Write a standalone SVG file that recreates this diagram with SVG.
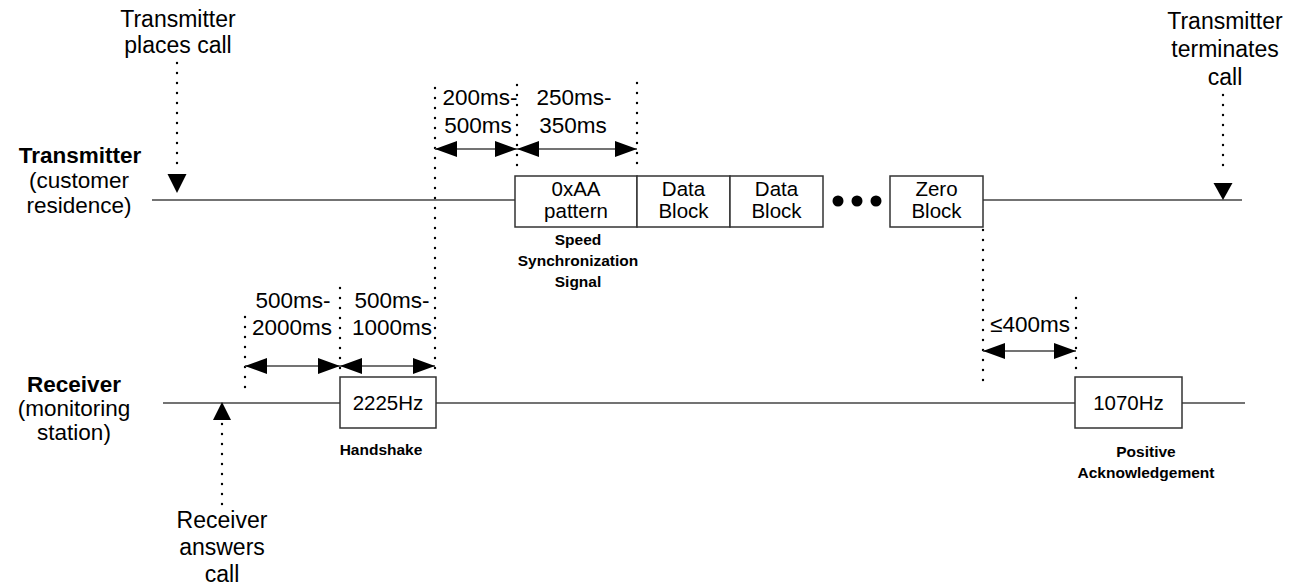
<svg xmlns="http://www.w3.org/2000/svg" width="1298" height="585" viewBox="0 0 1298 585">
<style>
text{font-family:"Liberation Sans",Arial,sans-serif;fill:#000}
.t{font-size:23px;text-anchor:middle}
.m{font-size:22.5px;text-anchor:middle}
.b{font-size:22.5px;font-weight:bold;text-anchor:middle}
.bx{font-size:20.5px;text-anchor:middle}
.s{font-size:15.5px;font-weight:bold;text-anchor:middle}
.ln{stroke:#444;stroke-width:1.5;fill:none}
.box{fill:#fff;stroke:#333;stroke-width:1.5}
.dot{stroke:#000;stroke-width:2.4;stroke-linecap:round;stroke-dasharray:0 10;fill:none}
.dim{stroke:#444;stroke-width:1.5;fill:none;marker-start:url(#ah);marker-end:url(#ah)}
</style>
<defs>
<marker id="ah" viewBox="0 0 22 16" refX="22" refY="8" markerWidth="22" markerHeight="16" markerUnits="userSpaceOnUse" orient="auto-start-reverse">
<path d="M0,0 L22,8 L0,16 Z" fill="#000"/>
</marker>
</defs>

<g id="transmitter-label">
<text class="b" x="80" y="163">Transmitter</text>
<text class="m" x="79" y="188">(customer</text>
<text class="m" x="79" y="213">residence)</text>
</g>
<g id="receiver-label">
<text class="b" x="74" y="392">Receiver</text>
<text class="m" x="74" y="416">(monitoring</text>
<text class="m" x="74" y="440">station)</text>
</g>

<g id="timelines">
<line class="ln" x1="152" y1="200" x2="515" y2="200"/>
<line class="ln" x1="983" y1="200" x2="1242" y2="200"/>
<line class="ln" x1="163" y1="403" x2="340" y2="403"/>
<line class="ln" x1="436" y1="403" x2="1075" y2="403"/>
<line class="ln" x1="1182" y1="403" x2="1245" y2="403"/>
</g>

<g id="box-0xAA">
<rect class="box" x="515" y="176" width="122" height="51"/>
<text class="bx" x="576" y="196">0xAA</text>
<text class="bx" x="576" y="218">pattern</text>
</g>
<g id="box-data1">
<rect class="box" x="637" y="176" width="93" height="51"/>
<text class="bx" x="683.5" y="196">Data</text>
<text class="bx" x="683.5" y="218">Block</text>
</g>
<g id="box-data2">
<rect class="box" x="730" y="176" width="93" height="51"/>
<text class="bx" x="776.5" y="196">Data</text>
<text class="bx" x="776.5" y="218">Block</text>
</g>
<g id="ellipsis">
<circle cx="838" cy="201" r="5.5" fill="#000"/>
<circle cx="857" cy="201" r="5.5" fill="#000"/>
<circle cx="876" cy="201" r="5.5" fill="#000"/>
</g>
<g id="box-zero">
<rect class="box" x="890" y="176" width="93" height="51"/>
<text class="bx" x="936.5" y="196">Zero</text>
<text class="bx" x="936.5" y="218">Block</text>
</g>
<g id="speed-sync-label">
<text class="s" x="578" y="245">Speed</text>
<text class="s" x="578" y="266">Synchronization</text>
<text class="s" x="578" y="287">Signal</text>
</g>

<g id="box-2225">
<rect class="box" x="340" y="377" width="96" height="51"/>
<text class="bx" x="388" y="410">2225Hz</text>
</g>
<g id="handshake-label">
<text class="s" x="381" y="455">Handshake</text>
</g>
<g id="box-1070">
<rect class="box" x="1075" y="377" width="107" height="51"/>
<text class="bx" x="1128.5" y="410">1070Hz</text>
</g>
<g id="ack-label">
<text class="s" x="1146" y="457">Positive</text>
<text class="s" x="1146" y="478">Acknowledgement</text>
</g>

<g id="event-places-call">
<text class="t" x="178" y="27">Transmitter</text>
<text class="t" x="178" y="53">places call</text>
</g>
<g id="event-terminates">
<text class="t" x="1225" y="29">Transmitter</text>
<text class="t" x="1225" y="57">terminates</text>
<text class="t" x="1225" y="85">call</text>
</g>
<g id="event-answers">
<text class="t" x="222" y="528">Receiver</text>
<text class="t" x="222" y="555">answers</text>
<text class="t" x="222" y="582">call</text>
</g>

<g id="timing-labels">
<text class="m" x="480" y="105">200ms-</text>
<text class="m" x="478" y="133">500ms</text>
<text class="m" x="574" y="105">250ms-</text>
<text class="m" x="573" y="133">350ms</text>
<text class="m" x="293" y="308">500ms-</text>
<text class="m" x="292" y="335">2000ms</text>
<text class="m" x="392" y="308">500ms-</text>
<text class="m" x="392" y="335">1000ms</text>
<text class="m" x="1030" y="332">≤400ms</text>
</g>

<g id="connectors">
<line class="dot" x1="177" y1="63" x2="177" y2="173"/>
<path d="M167.5,174 L186.5,174 L177,193 Z" fill="#000"/>
<line class="dot" x1="1223" y1="95" x2="1223" y2="175"/>
<path d="M1213.5,183 L1232.5,183 L1223,200 Z" fill="#000"/>
<line class="dot" x1="222" y1="424" x2="222" y2="508"/>
<path d="M213,420 L231,420 L222,402 Z" fill="#000"/>

<line class="dot" x1="435" y1="88" x2="435" y2="376"/>
<line class="dot" x1="517" y1="85" x2="517" y2="172"/>
<line class="dot" x1="637" y1="83" x2="637" y2="170"/>
<line class="dot" x1="245" y1="317" x2="245" y2="395"/>
<line class="dot" x1="340" y1="288" x2="340" y2="375"/>
<line class="dot" x1="983" y1="230" x2="983" y2="390"/>
<line class="dot" x1="1076" y1="298" x2="1076" y2="378"/>

<line class="dim" x1="435" y1="149" x2="517" y2="149"/>
<line class="dim" x1="517" y1="149" x2="637" y2="149"/>
<line class="dim" x1="245" y1="366" x2="340" y2="366"/>
<line class="dim" x1="340" y1="366" x2="435" y2="366"/>
<line class="dim" x1="983" y1="351" x2="1076" y2="351"/>
</g>
</svg>
